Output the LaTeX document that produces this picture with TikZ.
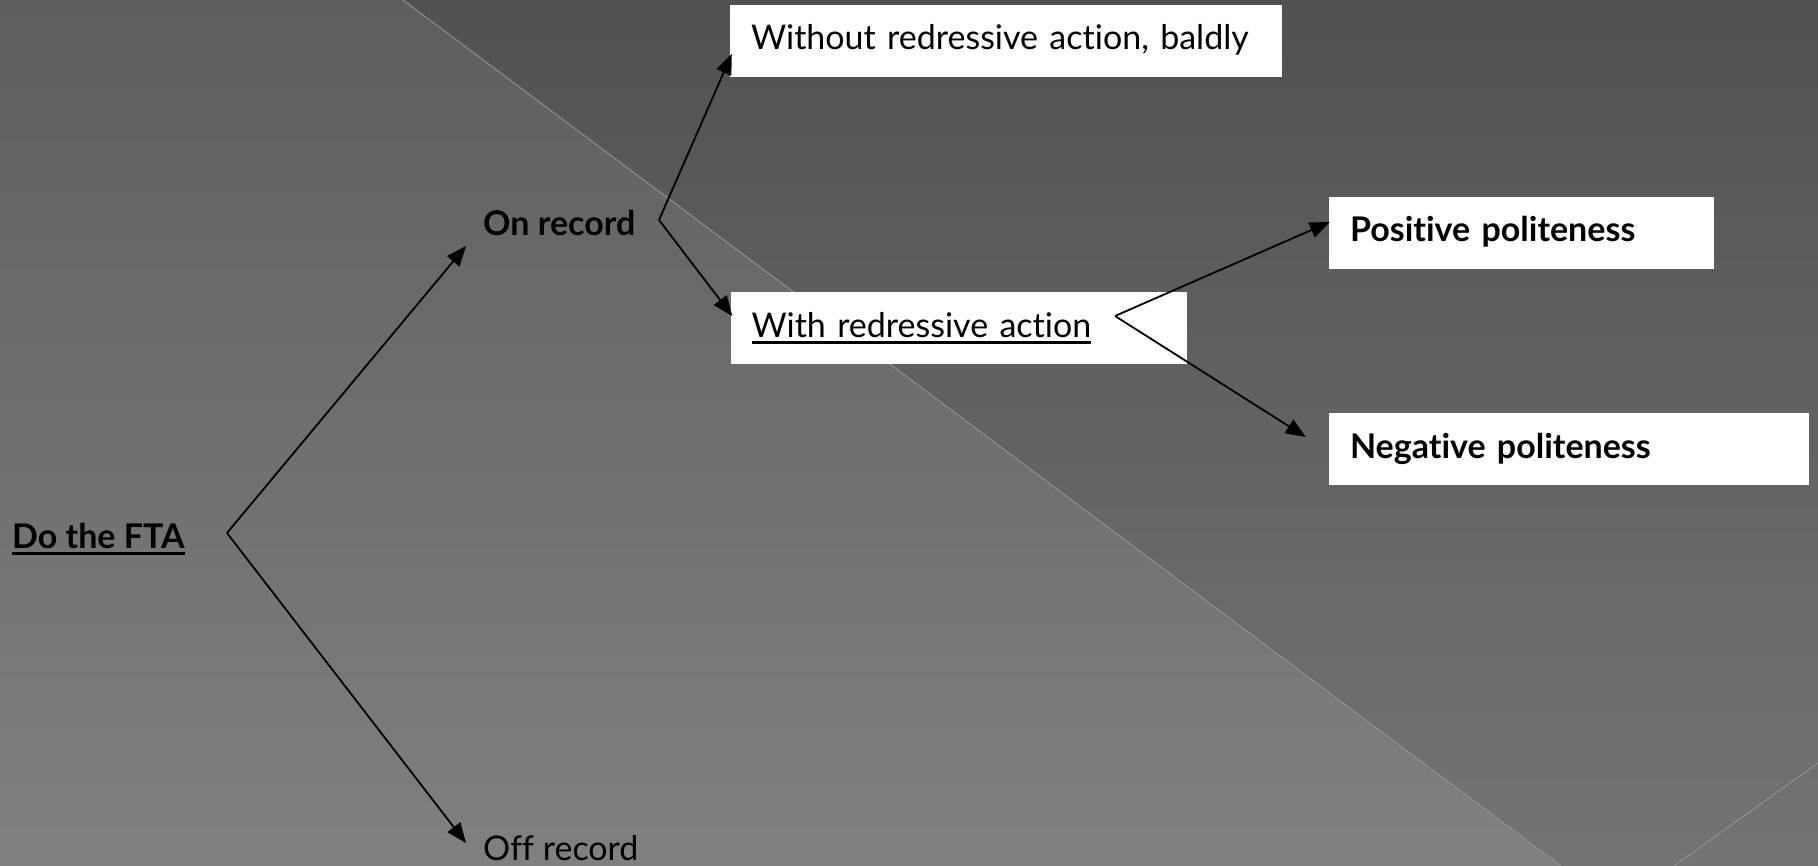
\documentclass[tikz,border=0pt]{standalone}
\usepackage{fontspec}
\setmainfont{Lato}[Ligatures=NoCommon]
\usetikzlibrary{arrows.meta}
\definecolor{bgdtop}{HTML}{515151}
\definecolor{bgdbot}{HTML}{747474}
\definecolor{bgltop}{HTML}{5E5E5E}
\definecolor{bglbot}{HTML}{808080}
\definecolor{sepline}{HTML}{909090}
\newcommand\thickul[1]{\setbox0\hbox{#1}\leavevmode\rlap{\vrule height -4pt depth 7pt width \wd0}\box0}
\begin{document}
\begin{tikzpicture}[x=1pt,y=-1pt,
  every node/.style={font=\fontsize{34}{40}\selectfont},
  lbl/.style={inner sep=0pt, anchor=base west},
  box/.style={fill=white, draw=none, inner xsep=21pt, inner ysep=0pt, minimum height=72pt,
    text height=20pt, text depth=2pt, align=left},
  arr/.style={line width=1.8pt, -{Triangle[length=20pt,width=16pt]}},
  sep/.style={draw=sepline, line width=1pt}]
\useasboundingbox (0,0) rectangle (1818,866);
\shade[top color=bgdtop, bottom color=bgdbot] (0,0) rectangle (1818,866);
\begin{scope}
  \clip (0,0) -- (403,0) -- (1561,866) -- (0,866) -- cycle;
  \shade[top color=bgltop, bottom color=bglbot] (0,0) rectangle (1818,866);
\end{scope}
\draw[sep] (403,0) -- (1561,866);
\draw[sep] (1818,763) -- (1674,866);

\node[lbl, font=\fontsize{34}{40}\selectfont\bfseries] (fta) at (12,548) {\thickul{Do the FTA}};
\node[lbl, font=\fontsize{34}{40}\selectfont\bfseries] (onrec) at (483,236) {On record};
\node[lbl] (offrec) at (483,860) {Off record};

\node[box, text width=510pt] (without) at (1006,41) {Without redressive action, baldly};
\node[box, text width=414pt] (with) at (958.5,328.5) {\thickul{With redressive action}};
\node[box, text width=343pt, font=\fontsize{34}{40}\selectfont\bfseries] (pos) at (1521.5,233) {Positive politeness};
\node[box, text width=438pt, font=\fontsize{34}{40}\selectfont\bfseries] (neg) at (1569,449) {Negative politeness};

\coordinate (f1) at (227,533);
\coordinate (f2) at (659,220);
\coordinate (f3) at (1115,316);

\draw[arr] (f1) -- ([xshift=-17pt,yshift=-10pt]onrec.base west);
\draw[arr] (f1) -- ([xshift=-17pt,yshift=17pt]offrec.base west);
\draw[arr] (f2) -- ([xshift=2pt,yshift=-13pt]without.west);
\draw[arr] (f2) -- ([xshift=2pt,yshift=12.5pt]with.west);
\draw[arr] (f3) -- ([xshift=1pt,yshift=11pt]pos.west);
\draw[arr] (f3) -- ([xshift=-23pt,yshift=12pt]neg.west);
\end{tikzpicture}
\end{document}
